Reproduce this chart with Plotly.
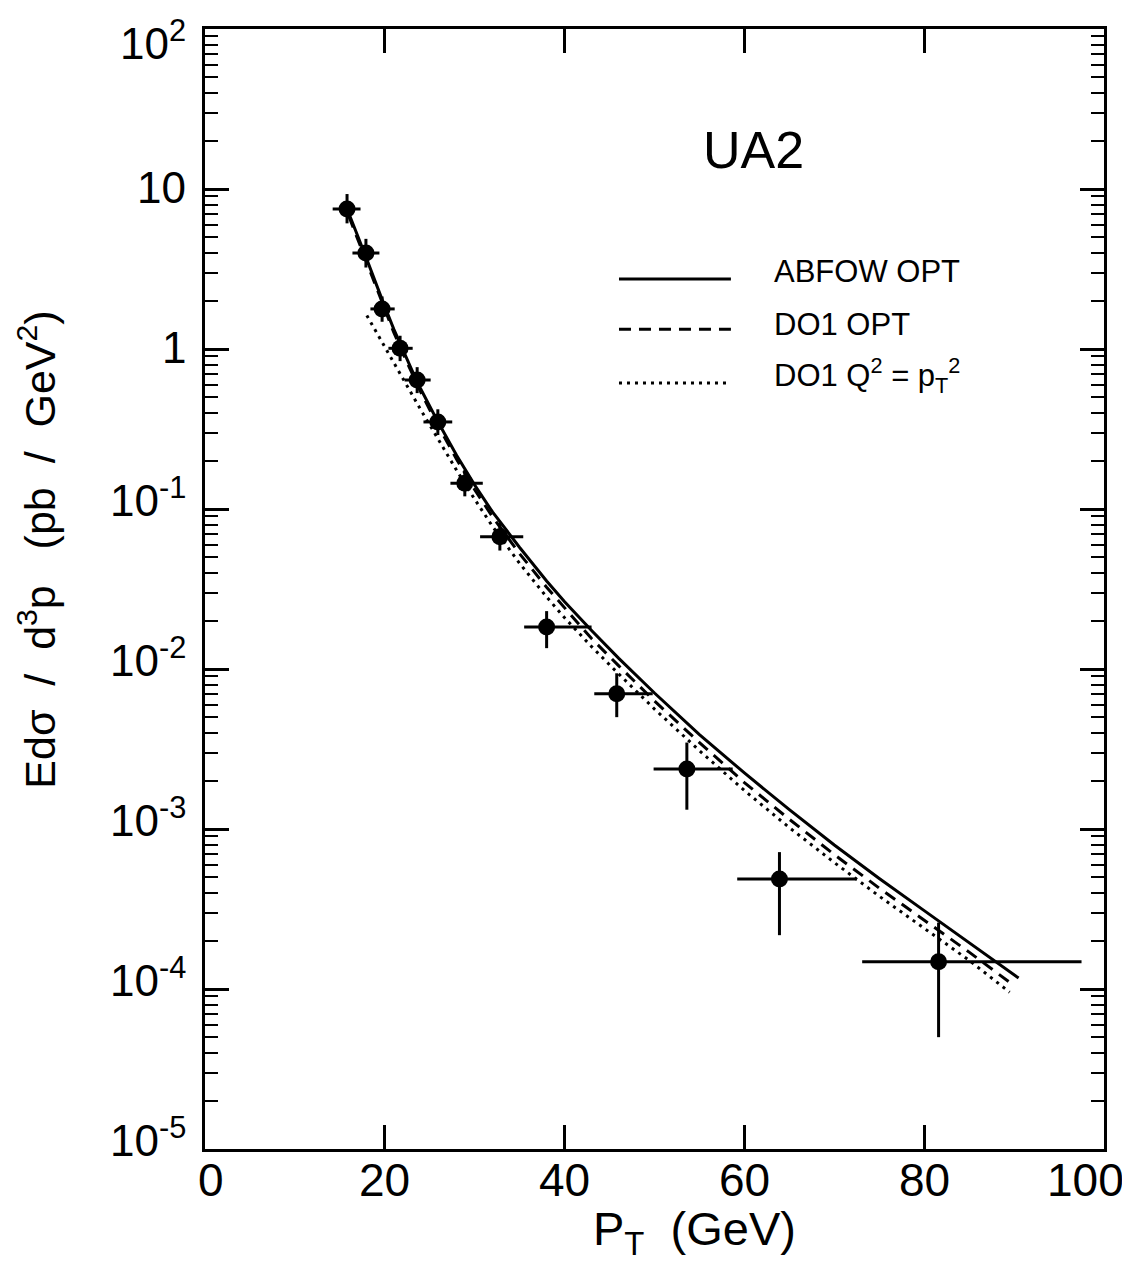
"""
    UA2 inclusive cross section vs pT, with the three theory curves.
"""
import plotly.graph_objects as go

# measured points (pT in GeV, Ed3sigma/dp3 in pb/GeV^2)
pt = [15.8, 17.9, 19.7, 21.7, 23.6, 25.9, 28.9, 32.8, 38.0, 45.8, 53.6, 63.9, 81.6]
pt_err_lo = [1.6, 1.5, 1.3, 1.3, 1.4, 1.6, 1.6, 2.2, 2.5, 2.5, 3.7, 4.7, 8.5]
pt_err_hi = [1.5, 1.5, 1.4, 1.4, 1.5, 1.6, 2.0, 2.6, 5.0, 4.0, 5.1, 8.6, 15.9]
xsec = [7.5, 3.98, 1.78, 1.01, 0.64, 0.35, 0.145, 0.067, 0.0183, 0.0070, 0.00237, 4.87e-4, 1.48e-4]
xsec_err_up = [1.8, 0.9, 0.35, 0.2, 0.13, 0.07, 0.03, 0.015, 0.0047, 0.0024, 0.0011, 2.3e-4, 1.12e-4]
xsec_err_dn = [1.4, 0.75, 0.3, 0.17, 0.11, 0.06, 0.025, 0.012, 0.0048, 0.0020, 0.00105, 2.7e-4, 0.98e-4]

# ABFOW OPT (solid)
abfow_pt = [15.5, 16, 17, 18, 19, 20, 21, 22, 23, 24, 25, 26, 28, 30, 32, 35, 38, 40,
            43, 46, 50, 55, 60, 65, 70, 75, 80, 85, 90.5]
abfow_xsec = [8.3, 7.08, 5.07, 3.63, 2.57, 1.84, 1.33, 0.989, 0.741, 0.562, 0.437, 0.343,
              0.216, 0.141, 0.0955, 0.0575, 0.0355, 0.0263, 0.0174, 0.0117, 0.00708,
              0.00389, 0.00224, 0.00132, 7.94e-4, 4.9e-4, 3.09e-4, 1.95e-4, 1.17e-4]

# DO1 OPT (dashed)
do1_pt = [16, 17, 18, 19, 20, 21, 22, 23, 24, 25, 26, 28, 30, 32, 35, 38, 40,
          43, 46, 50, 55, 60, 65, 70, 75, 80, 85, 89.8]
do1_xsec = [6.76, 4.84, 3.47, 2.45, 1.76, 1.27, 0.944, 0.708, 0.537, 0.417, 0.326,
            0.204, 0.132, 0.0891, 0.0525, 0.0324, 0.024, 0.0155, 0.0105, 0.00631,
            0.00347, 0.00195, 0.00115, 6.92e-4, 4.27e-4, 2.69e-4, 1.70e-4, 1.07e-4]

# DO1 Q^2 = pT^2 (dotted)
do1q_pt = [18, 19, 20, 21, 22, 23, 24, 25, 26, 28, 30, 32, 35, 38, 40,
           43, 46, 50, 55, 60, 65, 70, 75, 80, 85, 89.5]
do1q_xsec = [1.62, 1.29, 1.02, 0.813, 0.646, 0.519, 0.417, 0.335, 0.269, 0.174, 0.115,
             0.0776, 0.0457, 0.0282, 0.0209, 0.0138, 0.00933, 0.00562, 0.00309,
             0.00174, 0.00102, 6.17e-4, 3.80e-4, 2.40e-4, 1.51e-4, 9.55e-5]

decades = [-5, -4, -3, -2, -1, 0, 1, 2]
decade_labels = ["10<sup>-5</sup>", "10<sup>-4</sup>", "10<sup>-3</sup>", "10<sup>-2</sup>",
                 "10<sup>-1</sup>", "1", "10", "10<sup>2</sup>"]
pt_ticks = [0, 20, 40, 60, 80, 100]
pt_labels = ["0", "20", "40", "60", "80", "100"]

FONT = "Liberation Sans, Arial, Helvetica, sans-serif"

fig = go.Figure()

fig.add_trace(go.Scatter(x=abfow_pt, y=abfow_xsec, mode="lines",
                         line=dict(color="black", width=3), showlegend=False))
fig.add_trace(go.Scatter(x=do1_pt, y=do1_xsec, mode="lines",
                         line=dict(color="black", width=3, dash="12px,8px"), showlegend=False))
fig.add_trace(go.Scatter(x=do1q_pt, y=do1q_xsec, mode="lines",
                         line=dict(color="black", width=3, dash="3px,5px"), showlegend=False))

fig.add_trace(go.Scatter(
    x=pt, y=xsec, mode="markers",
    marker=dict(color="black", size=17, symbol="circle"),
    error_x=dict(type="data", symmetric=False, array=pt_err_hi, arrayminus=pt_err_lo,
                 width=0, thickness=3, color="black"),
    error_y=dict(type="data", symmetric=False, array=xsec_err_up, arrayminus=xsec_err_dn,
                 width=0, thickness=3, color="black"),
    showlegend=False,
))

minor_vals = [m * 10.0 ** d for d in decades[:-1] for m in range(2, 10)]

fig.update_xaxes(
    range=[0, 100],
    tickvals=pt_ticks,
    showticklabels=False,
    ticks="inside",
    ticklen=24,
    tickwidth=2.5,
    tickcolor="black",
    showline=True,
    linewidth=3,
    linecolor="black",
    mirror="ticks",
    showgrid=False,
    zeroline=False,
    automargin=False,
)

fig.update_yaxes(
    type="log",
    range=[-5, 2],
    tickvals=[10.0 ** d for d in decades],
    showticklabels=False,
    ticks="inside",
    ticklen=24,
    tickwidth=2.5,
    tickcolor="black",
    minor=dict(tickvals=minor_vals, ticks="inside", ticklen=13, tickwidth=2,
               tickcolor="black", showgrid=False),
    showline=True,
    linewidth=3,
    linecolor="black",
    mirror="ticks",
    showgrid=False,
    zeroline=False,
    automargin=False,
)

# tick labels as annotations, so the end ones can be nudged inside like the original
for v, lab in zip(pt_ticks, pt_labels):
    nudge = 6 if v == 0 else (-19 if v == 100 else 0)
    fig.add_annotation(text=lab, xref="x", yref="paper", x=v, y=0, xanchor="center",
                       yanchor="top", xshift=nudge, yshift=-3, showarrow=False,
                       font=dict(family=FONT, size=46, color="black"))
for d, lab in zip(decades, decade_labels):
    if d == 2:
        lift = -11
    elif "sup" in lab:
        lift = 12
    else:
        lift = 2
    fig.add_annotation(text=lab, xref="paper", yref="y", x=0, y=d, xanchor="right",
                       yanchor="middle", xshift=-17, yshift=lift,
                       showarrow=False, font=dict(family=FONT, size=44, color="black"))

# axis titles
fig.add_annotation(text="P<sub>T</sub>  (GeV)", xref="paper", yref="paper",
                   x=0.544, y=-0.074, showarrow=False, xanchor="center", yanchor="middle",
                   font=dict(family=FONT, size=47, color="black"))
fig.add_annotation(text="Ed\u03c3  /  d<sup>3</sup>p   (pb  /  GeV<sup>2</sup>)", xref="paper",
                   yref="paper", x=-0.187, y=0.535, showarrow=False, textangle=-90,
                   xanchor="center", yanchor="middle",
                   font=dict(family=FONT, size=43, color="black"))

fig.add_annotation(text="UA2", xref="paper", yref="paper", x=0.61, y=0.892,
                   xanchor="center", yanchor="middle",
                   showarrow=False, font=dict(family=FONT, size=52, color="black"))

# legend drawn by hand: sample line + text
legend_rows = [
    ("ABFOW OPT", "solid", 0.7768, 0.7839),
    ("DO1 OPT", "12px,8px", 0.732, 0.736),
    ("DO1 Q<sup>2</sup> = p<sub>T</sub><sup>2</sup>", "3px,5px", 0.684, 0.691),
]
for label, dash, y_line, y_text in legend_rows:
    fig.add_shape(type="line", xref="paper", yref="paper", x0=0.4605, x1=0.585,
                  y0=y_line, y1=y_line, line=dict(color="black", width=3, dash=dash))
    fig.add_annotation(text=label, xref="paper", yref="paper", x=0.6307, y=y_text,
                       xanchor="left", yanchor="middle", showarrow=False,
                       font=dict(family=FONT, size=31, color="black"))

# the page body adds an 8px margin, so the figure is 8px smaller on each side
fig.update_layout(
    width=1122,
    height=1266,
    margin=dict(l=197, r=26, t=21, b=125),
    plot_bgcolor="white",
    paper_bgcolor="white",
    font=dict(family=FONT, color="black"),
)

fig.write_html("out.html")
